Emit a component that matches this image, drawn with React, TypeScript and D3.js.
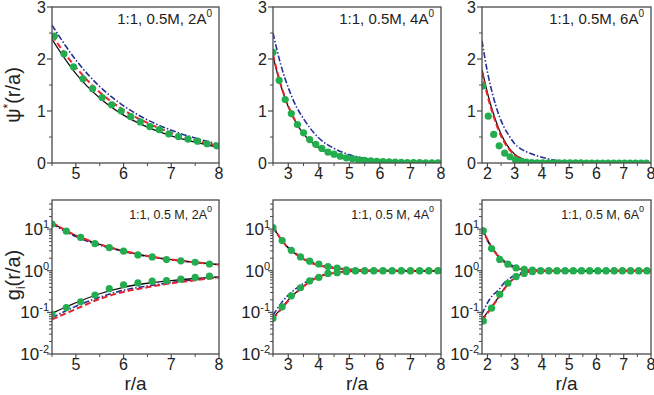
import * as d3 from "d3";

// ---- data ----
// top row: psi*(r/a), linear y
const psiLX = [4.5, 5, 5.5, 6, 6.5, 7, 7.5, 8];
const psiLBlack = [2.38, 1.72, 1.25, 0.92, 0.69, 0.52, 0.4, 0.3];
const psiLRed = [2.45, 1.84, 1.36, 1.02, 0.77, 0.58, 0.44, 0.33];
const psiLBlue = [2.65, 1.98, 1.47, 1.1, 0.83, 0.63, 0.48, 0.36];
const psiLDotX = [4.55, 4.75, 4.95, 5.15, 5.35, 5.55, 5.75, 5.95, 6.15, 6.35, 6.55, 6.75, 6.95, 7.15, 7.35, 7.55, 7.75, 7.95];
const psiLDots = [2.44, 2.1, 1.85, 1.62, 1.43, 1.26, 1.12, 1.0, 0.89, 0.79, 0.7, 0.64, 0.56, 0.51, 0.46, 0.42, 0.37, 0.33];

const psiMX = [2.5, 2.75, 3, 3.25, 3.5, 4, 4.5, 5, 5.5, 6, 7, 8];
const psiMBlack = [2.05, 1.5, 1.08, 0.78, 0.56, 0.29, 0.15, 0.08, 0.04, 0.02, 0.005, 0.001];
const psiMRed = [2.08, 1.52, 1.1, 0.79, 0.57, 0.3, 0.16, 0.08, 0.04, 0.02, 0.005, 0.001];
const psiMBlue = [2.5, 1.9, 1.45, 1.1, 0.85, 0.48, 0.28, 0.16, 0.09, 0.05, 0.015, 0.005];
const psiMDotX = [2.5, 2.7, 2.9, 3.1, 3.3, 3.5, 3.7, 3.9, 4.1, 4.3, 4.5, 4.7, 4.9, 5.1, 5.3, 5.5, 5.7, 5.9, 6.1, 6.3, 6.5, 6.7, 6.9, 7.1, 7.3, 7.5, 7.7, 7.9];
const psiMDots = [2.13, 1.59, 1.22, 0.95, 0.74, 0.58, 0.45, 0.36, 0.28, 0.21, 0.17, 0.13, 0.1, 0.08, 0.06, 0.05, 0.04, 0.03, 0.025, 0.02, 0.015, 0.012, 0.01, 0.008, 0.006, 0.005, 0.004, 0.003];

const psiRX = [1.8, 2.0, 2.2, 2.4, 2.6, 2.8, 3.0, 3.2, 3.5, 4, 5, 8];
const psiRBlack = [1.8, 1.35, 0.98, 0.68, 0.45, 0.28, 0.17, 0.1, 0.04, 0.01, 0.001, 0];
const psiRRed = [1.75, 1.3, 0.94, 0.64, 0.42, 0.26, 0.15, 0.09, 0.035, 0.008, 0.001, 0];
const psiRBlueX = [1.8, 2.0, 2.2, 2.4, 2.6, 2.8, 3.0, 3.2, 3.5, 4, 4.5, 5, 6, 8];
const psiRBlue = [2.35, 1.75, 1.3, 0.95, 0.7, 0.52, 0.37, 0.28, 0.2, 0.11, 0.05, 0.02, 0.004, 0];
const psiRDotX = [1.83, 2.03, 2.23, 2.43, 2.63, 2.83, 3.03, 3.23, 3.43, 3.63, 3.83, 4.03, 4.23, 4.43, 4.63, 4.83, 5.03, 5.23, 5.43, 5.63, 5.83, 6.03, 6.23, 6.43, 6.63, 6.83, 7.03, 7.23, 7.43, 7.63, 7.83];
const psiRDots = [1.48, 0.9, 0.55, 0.33, 0.19, 0.12, 0.06, 0.03, 0.015, 0.01, 0.005, 0.004, 0.003, 0.002, 0.002, 0.001, 0.001, 0.001, 0.001, 0, 0, 0, 0, 0, 0, 0, 0, 0, 0, 0, 0];

// bottom row: g_i(r/a), log y
const gLX = [4.5, 5, 5.5, 6, 6.5, 7, 7.5, 8];
const gLBlackUp = [14, 7.0, 4.3, 3.0, 2.25, 1.85, 1.6, 1.4];
const gLRedUp = [14.2, 7.1, 4.35, 3.0, 2.27, 1.86, 1.6, 1.41];
const gLBlueUp = [13.5, 6.6, 4.1, 2.9, 2.2, 1.82, 1.58, 1.4];
const gLBlackLo = [0.095, 0.17, 0.28, 0.4, 0.5, 0.58, 0.65, 0.71];
const gLRedLo = [0.068, 0.12, 0.21, 0.31, 0.4, 0.5, 0.59, 0.69];
const gLBlueLo = [0.075, 0.14, 0.23, 0.34, 0.43, 0.52, 0.61, 0.7];
const gLDotX = [4.5, 4.8, 5.1, 5.4, 5.7, 6.0, 6.3, 6.6, 6.9, 7.2, 7.5, 7.8];
const gLDotsUp = [13.2, 8.9, 6.3, 4.5, 3.6, 2.95, 2.4, 2.15, 1.85, 1.73, 1.6, 1.45];
const gLDotsLo = [0.091, 0.13, 0.18, 0.26, 0.37, 0.46, 0.51, 0.56, 0.58, 0.63, 0.69, 0.74];

const gMX = [2.5, 2.75, 3, 3.25, 3.5, 3.75, 4, 4.5, 5, 5.5, 6, 8];
const gMBlackUp = [11.5, 5.8, 3.5, 2.5, 1.9, 1.55, 1.35, 1.15, 1.06, 1.02, 1.0, 1.0];
const gMRedUp = [11.8, 5.9, 3.5, 2.5, 1.9, 1.55, 1.35, 1.15, 1.06, 1.02, 1.0, 1.0];
const gMBlueUp = [11, 5.8, 3.6, 2.6, 2.0, 1.65, 1.42, 1.2, 1.08, 1.03, 1.01, 1.0];
const gMBlackLo = [0.075, 0.12, 0.2, 0.3, 0.43, 0.58, 0.72, 0.88, 0.96, 0.99, 1.0, 1.0];
const gMRedLo = [0.07, 0.115, 0.19, 0.29, 0.42, 0.57, 0.71, 0.88, 0.96, 0.99, 1.0, 1.0];
const gMBlueLo = [0.085, 0.16, 0.26, 0.37, 0.5, 0.63, 0.75, 0.9, 0.97, 0.99, 1.0, 1.0];
const gMDotX = [2.5, 2.8, 3.1, 3.4, 3.7, 4.0, 4.3, 4.6, 4.9, 5.2, 5.5, 5.8, 6.1, 6.4, 6.7, 7.0, 7.3, 7.6, 7.9];
const gMDotsUp = [10.8, 5.3, 3.1, 2.15, 1.7, 1.45, 1.26, 1.16, 1.05, 1.0, 1.0, 1.0, 1.0, 1.0, 1.0, 1.0, 1.0, 1.0, 1.0];
const gMDotsLo = [0.072, 0.136, 0.25, 0.39, 0.57, 0.69, 0.86, 0.9, 0.95, 1.0, 1.0, 1.0, 1.0, 1.0, 1.0, 1.0, 1.0, 1.0, 1.0];

const gRX = [1.8, 2.0, 2.2, 2.4, 2.6, 2.8, 3.0, 3.2, 3.5, 4, 4.5, 8];
const gRBlackUp = [11, 5.5, 3.3, 2.2, 1.65, 1.35, 1.18, 1.09, 1.03, 1.0, 1.0, 1.0];
const gRRedUp = [11.2, 5.6, 3.3, 2.2, 1.65, 1.35, 1.18, 1.09, 1.03, 1.0, 1.0, 1.0];
const gRBlueUp = [10, 5.3, 3.3, 2.3, 1.75, 1.45, 1.27, 1.16, 1.07, 1.02, 1.0, 1.0];
const gRBlackLo = [0.07, 0.1, 0.15, 0.23, 0.36, 0.52, 0.68, 0.82, 0.94, 0.99, 1.0, 1.0];
const gRRedLo = [0.065, 0.095, 0.145, 0.22, 0.35, 0.51, 0.67, 0.81, 0.94, 0.99, 1.0, 1.0];
const gRBlueLo = [0.09, 0.17, 0.26, 0.34, 0.5, 0.64, 0.78, 0.88, 0.96, 0.99, 1.0, 1.0];
const gRDotX = [1.85, 2.15, 2.45, 2.75, 3.05, 3.35, 3.65, 3.95, 4.25, 4.55, 4.85, 5.15, 5.45, 5.75, 6.05, 6.35, 6.65, 6.95, 7.25, 7.55, 7.85];
const gRDotsUp = [9.1, 3.4, 1.87, 1.44, 1.17, 1.08, 1.03, 1.0, 1.0, 1.0, 1.0, 1.0, 1.0, 1.0, 1.0, 1.0, 1.0, 1.0, 1.0, 1.0, 1.0];
const gRDotsLo = [0.062, 0.126, 0.27, 0.5, 0.72, 0.86, 0.95, 1.0, 1.0, 1.0, 1.0, 1.0, 1.0, 1.0, 1.0, 1.0, 1.0, 1.0, 1.0, 1.0, 1.0];

const xTicksL = [5, 6, 7, 8];
const xTicksM = [3, 4, 5, 6, 7, 8];
const xTicksR = [2, 3, 4, 5, 6, 7, 8];
const psiTicks = [0, 1, 2, 3];
const logExps = [-2, -1, 0, 1];
const labels = ["2A", "4A", "6A"];

// ---- styling / layout ----
const FONT = "Liberation Sans, Arial, sans-serif";
const AXIS = "#4a4a4a";
const TXT = "#222";
const BLACK = "#111";
const RED = "#e8232b";
const BLUE = "#24309a";
const GREEN = "#22ad4e";

const cols = [
  { x0: 52, x1: 219, dom: [4.5, 8], ticks: xTicksL },
  { x0: 273, x1: 441, dom: [2.5, 8], ticks: xTicksM },
  { x0: 482, x1: 651, dom: [1.8, 8], ticks: xTicksR },
];
const topRow = { y0: 7, y1: 163 };
const botRow = { y0: 200, y1: 354 };

type Line = { x: number[]; y: number[]; color: string; dash?: string; w: number };

function Panel({ ci, log, lines, dots, label }: { ci: number; log: boolean; lines: Line[]; dots: { x: number[]; y: number[] }[]; label: string }) {
  const c = cols[ci];
  const row = log ? botRow : topRow;
  const x = d3.scaleLinear().domain(c.dom).range([c.x0, c.x1]);
  const y: any = log
    ? d3.scaleLog().domain([0.01, 50]).range([row.y1, row.y0])
    : d3.scaleLinear().domain([0, 3]).range([row.y1, row.y0]);
  const clipId = `clip-${ci}-${log ? "b" : "t"}`;
  const minorX = d3.range(Math.ceil(c.dom[0] * 2) / 2, c.dom[1] + 0.001, 0.5).filter((v) => v % 1 !== 0);
  const minorY = log
    ? logExps.flatMap((e) => d3.range(2, 10).map((m) => m * Math.pow(10, e))).filter((v) => v < 50)
    : [0.5, 1.5, 2.5];
  const majorY = log ? logExps.map((e) => Math.pow(10, e)) : psiTicks;

  return (
    <g>
      <defs>
        <clipPath id={clipId}>
          <rect x={c.x0} y={row.y0} width={c.x1 - c.x0} height={row.y1 - row.y0} />
        </clipPath>
      </defs>
      <g clipPath={`url(#${clipId})`}>
        {lines.map((l, i) => {
          const gen = d3
            .line<number>()
            .x((_, j) => x(l.x[j]))
            .y((v) => y(Math.max(v, log ? 0.001 : -1)))
            .curve(d3.curveMonotoneX);
          return <path key={i} d={gen(l.y) || ""} fill="none" stroke={l.color} strokeWidth={l.w} strokeDasharray={l.dash} />;
        })}
        {dots.map((s, i) =>
          s.y.map((v, j) => <circle key={`${i}-${j}`} cx={x(s.x[j])} cy={y(v)} r={3.6} fill={GREEN} />)
        )}
      </g>
      <rect x={c.x0} y={row.y0} width={c.x1 - c.x0} height={row.y1 - row.y0} fill="none" stroke={AXIS} strokeWidth={1.3} />
      {/* x ticks */}
      {c.ticks.map((t) => (
        <g key={`xt${t}`}>
          <line x1={x(t)} x2={x(t)} y1={row.y1} y2={row.y1 + 5} stroke={AXIS} strokeWidth={1.2} />
          <text x={x(t)} y={row.y1 + 16} textAnchor="middle" fontSize={16} fill={TXT} fontFamily={FONT}>{t}</text>
        </g>
      ))}
      {minorX.map((t) => (
        <line key={`xm${t}`} x1={x(t)} x2={x(t)} y1={row.y1} y2={row.y1 + 3} stroke={AXIS} strokeWidth={1} />
      ))}
      {/* y ticks */}
      {majorY.map((t, i) => (
        <g key={`yt${i}`}>
          <line x1={c.x0 - 5} x2={c.x0} y1={y(t)} y2={y(t)} stroke={AXIS} strokeWidth={1.2} />
          {log ? (
            <text x={c.x0 - 3} y={y(t) + 6} textAnchor="end" fontSize={17} fill={TXT} fontFamily={FONT}>
              10<tspan dy={-7} fontSize={11}>{logExps[i]}</tspan>
            </text>
          ) : (
            <text x={c.x0 - 6} y={y(t) + 6} textAnchor="end" fontSize={16} fill={TXT} fontFamily={FONT}>{t}</text>
          )}
        </g>
      ))}
      {minorY.map((t, i) => (
        <line key={`ym${i}`} x1={c.x0 - 3} x2={c.x0} y1={y(t)} y2={y(t)} stroke={AXIS} strokeWidth={1} />
      ))}
      <text x={c.x1 - 7} y={row.y0 + (log ? 19 : 17)} textAnchor="end" fontSize={log ? 12.5 : 15} fill={TXT} fontFamily={FONT}>
        {log ? `1:1, 0.5 M, ${label}` : `1:1, 0.5M, ${label}`}
        <tspan dy={-7} fontSize={log ? 9 : 10}>0</tspan>
      </text>
    </g>
  );
}

const L = (x: number[], y: number[], color: string, w: number, dash?: string): Line => ({ x, y, color, w, dash });
const DASH = "6,3";
const DASHDOT = "6,2,1.5,2";

export default function App() {
  const top = [
    { lines: [L(psiLX, psiLBlue, BLUE, 1.6, DASHDOT), L(psiLX, psiLBlack, BLACK, 1.3), L(psiLX, psiLRed, RED, 2, DASH)], dots: [{ x: psiLDotX, y: psiLDots }] },
    { lines: [L(psiMX, psiMBlue, BLUE, 1.6, DASHDOT), L(psiMX, psiMBlack, BLACK, 1.3), L(psiMX, psiMRed, RED, 2, DASH)], dots: [{ x: psiMDotX, y: psiMDots }] },
    { lines: [L(psiRBlueX, psiRBlue, BLUE, 1.6, DASHDOT), L(psiRX, psiRBlack, BLACK, 1.3), L(psiRX, psiRRed, RED, 2, DASH)], dots: [{ x: psiRDotX, y: psiRDots }] },
  ];
  const bottom = [
    {
      lines: [L(gLX, gLBlueUp, BLUE, 1.6, DASHDOT), L(gLX, gLBlueLo, BLUE, 1.6, DASHDOT), L(gLX, gLBlackUp, BLACK, 1.3), L(gLX, gLBlackLo, BLACK, 1.3), L(gLX, gLRedUp, RED, 2, DASH), L(gLX, gLRedLo, RED, 2, DASH)],
      dots: [{ x: gLDotX, y: gLDotsUp }, { x: gLDotX, y: gLDotsLo }],
    },
    {
      lines: [L(gMX, gMBlueUp, BLUE, 1.6, DASHDOT), L(gMX, gMBlueLo, BLUE, 1.6, DASHDOT), L(gMX, gMBlackUp, BLACK, 1.3), L(gMX, gMBlackLo, BLACK, 1.3), L(gMX, gMRedUp, RED, 2, DASH), L(gMX, gMRedLo, RED, 2, DASH)],
      dots: [{ x: gMDotX, y: gMDotsUp }, { x: gMDotX, y: gMDotsLo }],
    },
    {
      lines: [L(gRX, gRBlueUp, BLUE, 1.6, DASHDOT), L(gRX, gRBlueLo, BLUE, 1.6, DASHDOT), L(gRX, gRBlackUp, BLACK, 1.3), L(gRX, gRBlackLo, BLACK, 1.3), L(gRX, gRRedUp, RED, 2, DASH), L(gRX, gRRedLo, RED, 2, DASH)],
      dots: [{ x: gRDotX, y: gRDotsUp }, { x: gRDotX, y: gRDotsLo }],
    },
  ];

  return (
    <svg width={654} height={395} style={{ position: "absolute", left: 0, top: 0, background: "#fff" }} fontFamily={FONT}>
      {top.map((p, i) => (
        <Panel key={`t${i}`} ci={i} log={false} lines={p.lines} dots={p.dots} label={labels[i]} />
      ))}
      {bottom.map((p, i) => (
        <Panel key={`b${i}`} ci={i} log={true} lines={p.lines} dots={p.dots} label={labels[i]} />
      ))}
      <text transform="translate(20,95) rotate(-90)" textAnchor="middle" fontSize={20} fill={TXT}>
        ψ<tspan dy={-8} fontSize={12}>*</tspan>
        <tspan dy={8}>(r/a)</tspan>
      </text>
      <text transform="translate(20,275) rotate(-90)" textAnchor="middle" fontSize={20} fill={TXT}>
        g<tspan dy={5} fontSize={12}>i</tspan>
        <tspan dy={-5}>(r/a)</tspan>
      </text>
      {cols.map((c, i) => (
        <text key={`xl${i}`} x={(c.x0 + c.x1) / 2} y={390} textAnchor="middle" fontSize={19} fill={TXT}>r/a</text>
      ))}
    </svg>
  );
}
